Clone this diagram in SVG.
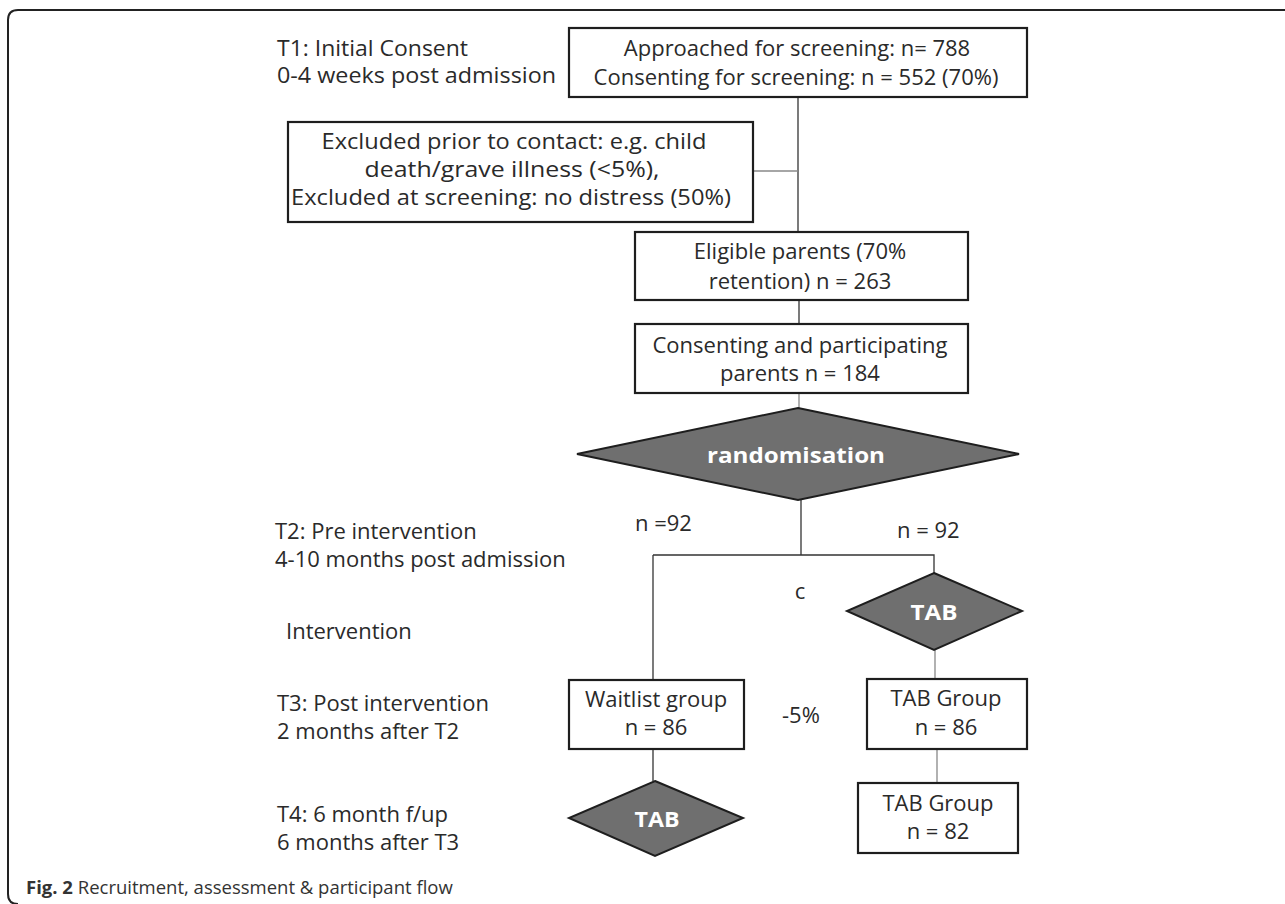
<svg xmlns="http://www.w3.org/2000/svg" width="1285" height="904" viewBox="0 0 1285 904">
<style>
.frame{fill:none;stroke:#222;stroke-width:2}
.box{fill:#fff;stroke:#1e1e1e;stroke-width:2.2}
.dia{fill:#6f6f6f;stroke:#1e1e1e;stroke-width:2}
.con{fill:none;stroke:#333;stroke-width:1.3}
.con2{fill:none;stroke:#888;stroke-width:1.3}
text{font-family:"Open Sans","Noto Sans",sans-serif;font-size:22px;fill:#2a2a2a}
.s{font-size:21px}
.c{text-anchor:middle}
.w{fill:#fff;font-weight:bold;text-anchor:middle}
.cap{font-size:18.5px;fill:#333}
</style>
<rect width="1285" height="904" fill="#fff"/>
<path class="frame" d="M1285 10 H18 Q8 10 8 20 V894 Q8 904 18 904"/>
<g id="labels">
<text class="s" x="277" y="56" textLength="191" lengthAdjust="spacingAndGlyphs">T1: Initial Consent</text>
<text class="s" x="277" y="83" textLength="279" lengthAdjust="spacingAndGlyphs">0-4 weeks post admission</text>
<text x="275" y="539">T2: Pre intervention</text>
<text x="275" y="567">4-10 months post admission</text>
<text x="286" y="639">Intervention</text>
<text x="277" y="711">T3: Post intervention</text>
<text x="277" y="739">2 months after T2</text>
<text x="277" y="822">T4: 6 month f/up</text>
<text x="277" y="850">6 months after T3</text>
<text x="635" y="531">n =92</text>
<text x="897" y="538">n = 92</text>
<text class="c" x="800" y="599">c</text>
<text x="782" y="723">-5%</text>
</g>
<g id="connectors">
<path class="con" d="M798 97 V232"/>
<path class="con2" d="M753 171 H798"/>
<path class="con" d="M799 300 V324"/>
<path class="con2" d="M799 393 V408"/>
<path class="con" d="M801 500 V555"/>
<path class="con" d="M653 555 H934 V573"/>
<path class="con" d="M653 555 V680"/>
<path class="con" d="M653 749 V781"/>
<path class="con2" d="M935 650 V679"/>
<path class="con2" d="M937 749 V783"/>
</g>
<g id="n-approached">
<rect class="box" x="569" y="28" width="458" height="69"/>
<text class="c" x="797" y="56">Approached for screening: n= 788</text>
<text class="c" x="796" y="85">Consenting for screening: n = 552 (70%)</text>
</g>
<g id="n-excluded">
<rect class="box" x="288" y="122" width="465" height="100" stroke-width="1.6"/>
<text class="c s" x="514" y="149" textLength="385" lengthAdjust="spacingAndGlyphs">Excluded prior to contact: e.g. child</text>
<text class="c s" x="512" y="177" textLength="295" lengthAdjust="spacingAndGlyphs">death/grave illness (&lt;5%),</text>
<text class="c s" x="511" y="205" textLength="440" lengthAdjust="spacingAndGlyphs">Excluded at screening: no distress (50%)</text>
</g>
<g id="n-eligible">
<rect class="box" x="635" y="232" width="333" height="68"/>
<text class="c" x="800" y="259">Eligible parents (70%</text>
<text class="c" x="800" y="289">retention) n = 263</text>
</g>
<g id="n-consenting">
<rect class="box" x="635" y="324" width="333" height="69"/>
<text class="c" x="800" y="353">Consenting and participating</text>
<text class="c" x="800" y="381">parents n = 184</text>
</g>
<g id="n-randomisation">
<polygon class="dia" points="798,408 1019,454 798,500 577,454"/>
<text class="w" x="796" y="463" font-size="25" textLength="178" lengthAdjust="spacingAndGlyphs">randomisation</text>
</g>
<g id="n-tab1">
<polygon class="dia" points="934,573 1022,611 934,650 847,611"/>
<text class="w" x="934" y="620" font-size="24" textLength="47" lengthAdjust="spacingAndGlyphs">TAB</text>
</g>
<g id="n-waitlist">
<rect class="box" x="569" y="680" width="175" height="69"/>
<text class="c" x="656" y="707">Waitlist group</text>
<text class="c" x="656" y="735">n = 86</text>
</g>
<g id="n-tabgroup86">
<rect class="box" x="867" y="679" width="160" height="70"/>
<text class="c" x="946" y="706">TAB Group</text>
<text class="c" x="946" y="735">n = 86</text>
</g>
<g id="n-tab2">
<polygon class="dia" points="655,781 743,818 655,856 569,818"/>
<text class="w" x="657" y="827" font-size="24" textLength="45" lengthAdjust="spacingAndGlyphs">TAB</text>
</g>
<g id="n-tabgroup82">
<rect class="box" x="858" y="783" width="160" height="70"/>
<text class="c" x="938" y="811">TAB Group</text>
<text class="c" x="938" y="839">n = 82</text>
</g>
<text class="cap" x="26" y="894"><tspan font-weight="bold">Fig. 2</tspan> Recruitment, assessment &amp; participant flow</text>
</svg>
